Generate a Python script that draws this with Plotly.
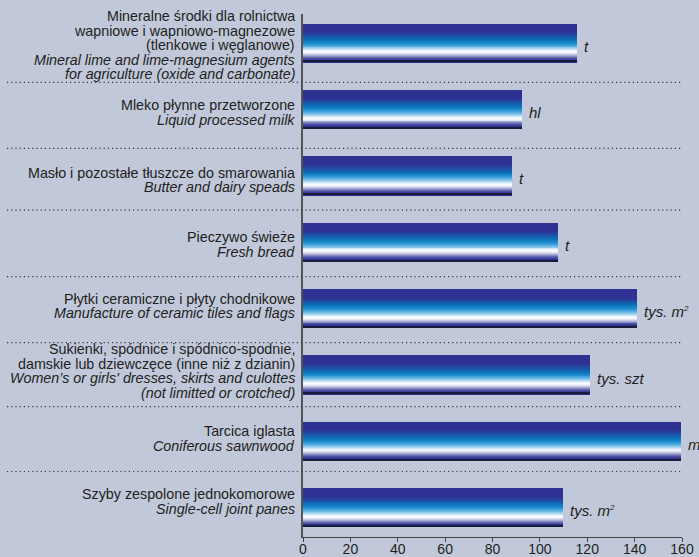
import plotly.graph_objects as go

# ---------------- data ----------------
pl_lines = [
    ["Mineralne środki dla rolnictwa", "wapniowe i wapniowo-magnezowe", "(tlenkowe i węglanowe)"],
    ["Mleko płynne przetworzone"],
    ["Masło i pozostałe tłuszcze do smarowania"],
    ["Pieczywo świeże"],
    ["Płytki ceramiczne i płyty chodnikowe"],
    ["Sukienki, spódnice i spódnico-spodnie,", "damskie lub dziewczęce (inne niż z dzianin)"],
    ["Tarcica iglasta"],
    ["Szyby zespolone jednokomorowe"],
]
en_lines = [
    ["Mineral lime and lime-magnesium agents", "for agriculture (oxide and carbonate)"],
    ["Liquid processed milk"],
    ["Butter and dairy speads"],
    ["Fresh bread"],
    ["Manufacture of ceramic tiles and flags"],
    ["Women’s or girls' dresses, skirts and culottes", "(not limitted or crotched)"],
    ["Coniferous sawnwood"],
    ["Single-cell joint panes"],
]
values = [115.6, 92.4, 88.2, 107.5, 140.9, 121.0, 159.7, 109.7]
units = ["t", "hl", "t", "t", "tys. m²", "tys. szt", "m³", "tys. m²"]
x_ticks = [0, 20, 40, 60, 80, 100, 120, 140, 160]

# ---------------- layout helpers ----------------
n = len(values)
idx = list(range(n))
sep_pos = [0.59, 1.585, 2.514, 3.518, 4.511, 5.475, 6.453]
label_delta_px = [2, 3, 4, 2, -2.5, -4, -3, -6.5]
LINE_H = 14.6
BAR_W = 0.575
BG = "#c0c8da"
TXT = "#231f20"
FONT = "Liberation Sans, Arial, sans-serif"

stops = [
    (0.00, (46, 49, 146)),
    (0.22, (46, 49, 146)),
    (0.32, (31, 79, 165)),
    (0.42, (13, 111, 184)),
    (0.52, (30, 143, 208)),
    (0.60, (98, 179, 227)),
    (0.67, (180, 218, 242)),
    (0.73, (255, 255, 255)),
    (0.78, (232, 236, 247)),
    (0.84, (165, 168, 212)),
    (0.90, (85, 88, 168)),
    (0.96, (46, 49, 146)),
    (1.00, (40, 42, 130)),
]


def interp(t):
    for (t0, c0), (t1, c1) in zip(stops[:-1], stops[1:]):
        if t0 <= t <= t1:
            f = 0 if t1 == t0 else (t - t0) / (t1 - t0)
            c = [round(a + (b - a) * f) for a, b in zip(c0, c1)]
            return "rgb(%d,%d,%d)" % tuple(c)
    return "rgb(%d,%d,%d)" % stops[-1][1]


def unit_html(u):
    # small superscript like the reference
    if u.endswith("²") or u.endswith("³"):
        sup = "2" if u.endswith("²") else "3"
        return "<i>%s<sup><span style='font-size:8px'>%s</span></sup></i>" % (u[:-1], sup)
    return "<i>%s</i>" % u


fig = go.Figure()
N = 40
s = BAR_W / N
for k in range(N):
    t = (k + 0.5) / N
    w = min(1.7 * s, (N - k) * s)
    fig.add_trace(go.Bar(
        orientation="h", x=values, y=idx,
        width=w, offset=-BAR_W / 2 + k * s,
        marker=dict(color=interp(t), line=dict(width=0)),
        hoverinfo="skip", showlegend=False,
    ))
# thin dark bottom edge
lw = 1.3 / 66.4
fig.add_trace(go.Bar(
    orientation="h", x=values, y=idx,
    width=lw, offset=BAR_W / 2 - lw,
    marker=dict(color="#1b1b3c", line=dict(width=0)),
    hoverinfo="skip", showlegend=False,
))

annotations = []
for i in range(n):
    lines = [(l, False) for l in pl_lines[i]] + [(l, True) for l in en_lines[i]]
    m = len(lines)
    for j, (txt, it) in enumerate(lines):
        down = (j - (m - 1) / 2) * LINE_H + label_delta_px[i]
        annotations.append(dict(
            x=0, xref="paper", y=i, yref="y", xanchor="right", yanchor="middle",
            xshift=-6, yshift=-down,
            text=("<i>%s</i>" % txt) if it else txt,
            showarrow=False,
            font=dict(family=FONT, size=14.3, color=TXT),
        ))
    annotations.append(dict(
        x=values[i], xref="x", y=i, yref="y", xanchor="left", yanchor="middle",
        xshift=5, yshift=-3,
        text=unit_html(units[i]), showarrow=False,
        font=dict(family=FONT, size=15, color=TXT),
    ))

shapes = []
for p in sep_pos:
    shapes.append(dict(
        type="line", xref="paper", yref="y",
        x0=-0.781, x1=1.003, y0=p, y1=p,
        line=dict(color="#3a3a3a", width=1.2, dash="1.2px,3px"),
        layer="above",
    ))

fig.update_layout(
    width=699, height=557,
    margin=dict(l=303, r=17, t=14, b=20),
    paper_bgcolor=BG, plot_bgcolor=BG,
    barmode="overlay", bargap=0,
    showlegend=False,
    annotations=annotations,
    shapes=shapes,
    xaxis=dict(
        range=[0, 160], tickvals=x_ticks, ticktext=[str(v) for v in x_ticks],
        showgrid=False, zeroline=False,
        showline=True, linecolor="#444", linewidth=1.2,
        ticks="outside", ticklen=4, tickcolor="#444", tickwidth=1.2,
        ticklabelstandoff=-5,
        tickfont=dict(family=FONT, size=14, color=TXT),
        fixedrange=True, automargin=False,
    ),
    yaxis=dict(
        range=[7.44, -0.44], showticklabels=False, showgrid=False, zeroline=False,
        showline=True, linecolor="#555", linewidth=1.5, ticks="",
        fixedrange=True, automargin=False,
    ),
)

fig.write_html(
    "out.html",
    config={"displayModeBar": False},
    post_script="document.body.style.margin='0';document.body.style.background='%s';" % BG,
)
